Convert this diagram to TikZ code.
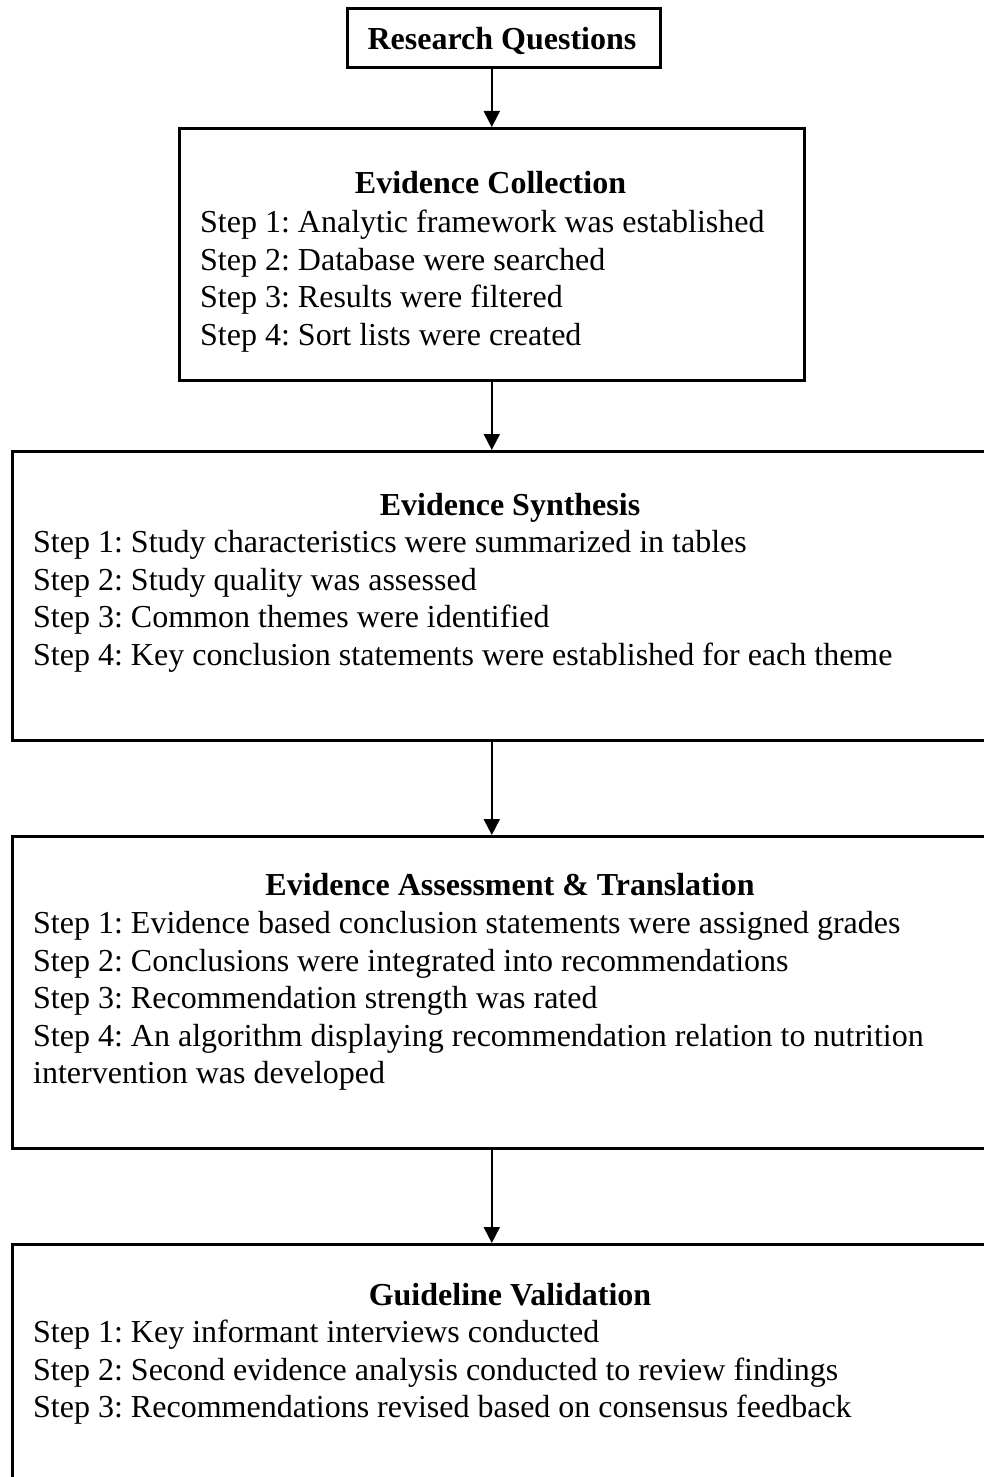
\documentclass[tikz,border=0pt]{standalone}
\usepackage{fontspec}
\setmainfont{Liberation Serif}
\usetikzlibrary{arrows.meta}
\frenchspacing
\begin{document}
\begin{tikzpicture}[x=1pt,y=-1pt,
  box/.style={draw, line width=2.6pt, inner sep=0pt, anchor=north west},
  head/.style={font=\fontsize{32}{37.5}\selectfont\bfseries, inner sep=0pt, anchor=base},
  stepline/.style={font=\fontsize{32}{37.5}\selectfont, inner sep=0pt, anchor=base west},
  flow/.style={line width=2pt, -{Triangle[width=16pt,length=16pt]}}]
\clip (0,0) rectangle (984,1477);

% boxes
\node[box, minimum width=313pt, minimum height=59pt]  (rq) at (346,7) {};
\node[box, minimum width=625pt, minimum height=252pt] (ec) at (178,127) {};
\node[box, minimum width=998pt, minimum height=289pt] (es) at (11,450) {};
\node[box, minimum width=998pt, minimum height=312pt] (ea) at (11,835) {};
\node[box, minimum width=998pt, minimum height=300pt] (gv) at (11,1243) {};

% research questions
\node[head] (rqt) at (502,50) {Research Questions};

% evidence collection
\node[head] (ech) at (490.5,193) {Evidence Collection};
\node[stepline] (ec1) at (200,232) {Step 1: Analytic framework was established};
\node[stepline] (ec2) at (200,270) {Step 2: Database were searched};
\node[stepline] (ec3) at (200,307) {Step 3: Results were filtered};
\node[stepline] (ec4) at (200,345) {Step 4: Sort lists were created};

% evidence synthesis
\node[head] (esh) at (510,515) {Evidence Synthesis};
\node[stepline] (es1) at (33,552) {Step 1: Study characteristics were summarized in tables};
\node[stepline] (es2) at (33,590) {Step 2: Study quality was assessed};
\node[stepline] (es3) at (33,627) {Step 3: Common themes were identified};
\node[stepline] (es4) at (33,665) {Step 4: Key conclusion statements were established for each theme};

% evidence assessment and translation
\node[head] (eah) at (510,895) {Evidence Assessment \& Translation};
\node[stepline] (ea1) at (33,933) {Step 1: Evidence based conclusion statements were assigned grades};
\node[stepline] (ea2) at (33,971) {Step 2: Conclusions were integrated into recommendations};
\node[stepline] (ea3) at (33,1008) {Step 3: Recommendation strength was rated};
\node[stepline] (ea4) at (33,1046) {Step 4: An algorithm displaying recommendation relation to nutrition};
\node[stepline] (ea5) at (33,1083) {intervention was developed};

% guideline validation
\node[head] (gvh) at (510,1305) {Guideline Validation};
\node[stepline] (gv1) at (33,1342) {Step 1: Key informant interviews conducted};
\node[stepline] (gv2) at (33,1380) {Step 2: Second evidence analysis conducted to review findings};
\node[stepline] (gv3) at (33,1417) {Step 3: Recommendations revised based on consensus feedback};

% connectors
\draw[flow] (rq.south -| ec.north) -- (ec.north);
\draw[flow] (ec.south) -- (ec.south |- es.north);
\draw[flow] (ec.south |- es.south) -- (ec.south |- ea.north);
\draw[flow] (ec.south |- ea.south) -- (ec.south |- gv.north);
\end{tikzpicture}
\end{document}
